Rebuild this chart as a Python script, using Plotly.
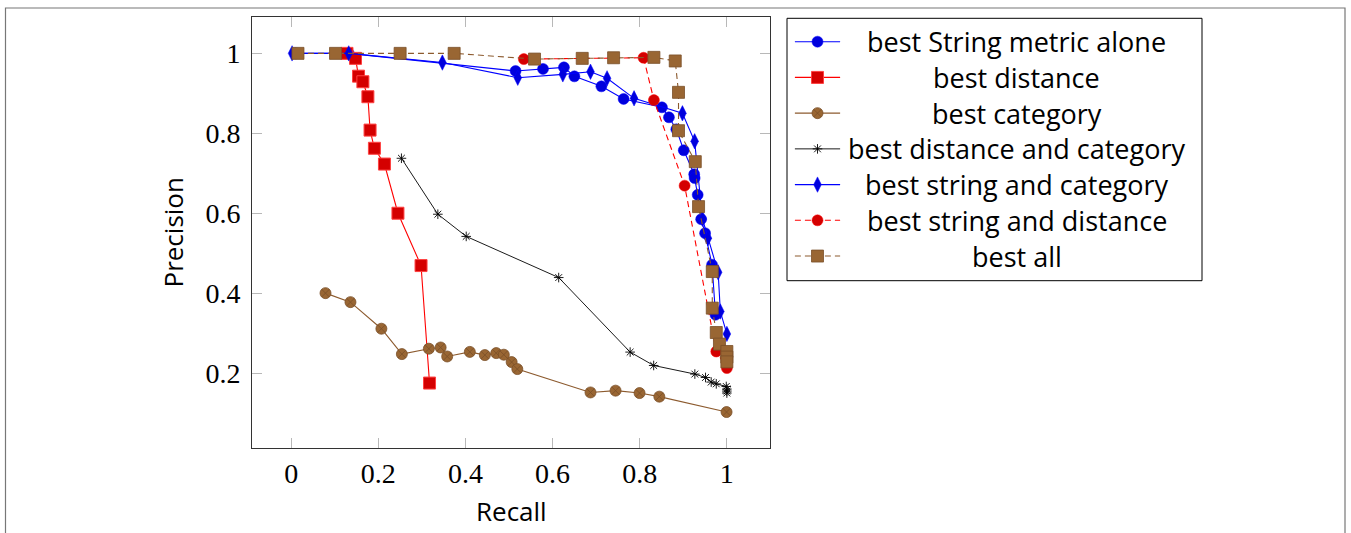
import plotly.graph_objects as go

W, H = 1351, 533

# ---------------- data ----------------
string_x = [0.01, 0.132, 0.515, 0.578, 0.626, 0.650, 0.712, 0.763, 0.851, 0.867, 0.884, 0.901, 0.925, 0.926, 0.933, 0.941, 0.950, 0.966, 0.974]
string_y = [1.0, 1.0, 0.956, 0.961, 0.965, 0.9425, 0.9175, 0.886, 0.865, 0.84, 0.81, 0.7575, 0.6975, 0.688, 0.646, 0.585, 0.55, 0.471, 0.346]

dist_x = [0.128, 0.1476, 0.1545, 0.1645, 0.176, 0.181, 0.191, 0.214, 0.245, 0.298, 0.3175]
dist_y = [1.0, 0.9875, 0.943, 0.929, 0.8915, 0.808, 0.7625, 0.723, 0.600, 0.469, 0.175]

cat_x = [0.0787, 0.136, 0.207, 0.254, 0.316, 0.343, 0.358, 0.410, 0.4445, 0.4706, 0.488, 0.506, 0.519, 0.687, 0.7445, 0.7996, 0.845, 0.9993]
cat_y = [0.400, 0.3775, 0.311, 0.2475, 0.261, 0.264, 0.2415, 0.253, 0.245, 0.250, 0.246, 0.2275, 0.210, 0.1515, 0.156, 0.150, 0.141, 0.1025]

distcat_x = [0.253, 0.3366, 0.4017, 0.614, 0.778, 0.832, 0.9265, 0.951, 0.964, 0.9757, 0.9986, 1.0, 1.0, 1.0]
distcat_y = [0.7375, 0.5975, 0.542, 0.439, 0.2525, 0.219, 0.1975, 0.189, 0.1775, 0.173, 0.1665, 0.160, 0.155, 0.150]

strcat_x = [0.002, 0.132, 0.347, 0.520, 0.6235, 0.687, 0.725, 0.787, 0.898, 0.926, 0.944, 0.9565, 0.980, 0.985, 1.0]
strcat_y = [1.0, 1.0, 0.977, 0.939, 0.9475, 0.954, 0.9375, 0.8875, 0.850, 0.780, 0.586, 0.5375, 0.452, 0.354, 0.298]

strdist_x = [0.534, 0.8088, 0.8325, 0.903, 0.9757, 1.0]
strdist_y = [0.9857, 0.989, 0.883, 0.669, 0.254, 0.2125]

all_x = [0.0155, 0.1017, 0.250, 0.374, 0.5585, 0.668, 0.740, 0.8325, 0.8815, 0.889, 0.889, 0.9275, 0.935, 0.9665, 0.9665, 0.9757, 0.983, 1.0, 1.0, 1.0]
all_y = [1.0, 1.0, 1.0, 1.0, 0.9857, 0.9875, 0.989, 0.990, 0.981, 0.9025, 0.8065, 0.729, 0.6165, 0.454, 0.3625, 0.3015, 0.2725, 0.254, 0.240, 0.228]

x_ticks = [0, 0.2, 0.4, 0.6, 0.8, 1]
x_tick_text = ["0", "0.2", "0.4", "0.6", "0.8", "1"]
y_ticks = [0.2, 0.4, 0.6, 0.8, 1]
y_tick_text = ["0.2", "0.4", "0.6", "0.8", "1"]

names = ["best String metric alone", "best distance", "best category",
         "best distance and category", "best string and category",
         "best string and distance", "best all"]

BLUE = "#0000ff"
BLUE_M = "#0000dd"
RED = "#ff0000"
RED_M = "#d40000"
BROWN = "#8c5a2e"
BROWN_M = "#996633"
BROWN_L = "#7a4f28"

styles = [
    dict(line=dict(color=BLUE, width=1.1), marker=dict(symbol="circle", size=11, color=BLUE_M, line=dict(color=BLUE, width=0.5))),
    dict(line=dict(color=RED, width=1.1), marker=dict(symbol="square", size=12, color=RED_M, line=dict(color="#ff4040", width=1))),
    dict(line=dict(color=BROWN, width=1.1), marker=dict(symbol="circle-x", size=11, color=BROWN_M, line=dict(color=BROWN_L, width=0.8))),
    dict(line=dict(color="black", width=0.9), marker=dict(symbol="asterisk-open", size=8, color="black", line=dict(color="black", width=0.9))),
    dict(line=dict(color=BLUE, width=1.1), marker=dict(symbol="diamond-tall", size=11, color=BLUE_M, line=dict(color=BLUE, width=0.5))),
    dict(line=dict(color=RED, width=1.1, dash="6px,4px"), marker=dict(symbol="circle", size=11, color=RED_M, line=dict(color=RED, width=0.5))),
    dict(line=dict(color=BROWN, width=1.1, dash="6px,4px"), marker=dict(symbol="square", size=12, color=BROWN_M, line=dict(color=BROWN_L, width=0.8))),
]

series = [(string_x, string_y), (dist_x, dist_y), (cat_x, cat_y), (distcat_x, distcat_y),
          (strcat_x, strcat_y), (strdist_x, strdist_y), (all_x, all_y)]

fig = go.Figure()
for (xs, ys), nm, st in zip(series, names, styles):
    fig.add_trace(go.Scatter(x=xs, y=ys, mode="lines+markers", name=nm,
                             line=st["line"], marker=st["marker"], showlegend=False,
                             xaxis="x", yaxis="y"))

# ---------------- custom legend (centered text, like pgfplots) ----------------
n = len(names)
for i, (nm, st) in enumerate(zip(names, styles)):
    fig.add_trace(go.Scatter(x=[0.019, 0.0735, 0.128], y=[i, i, i], mode="lines",
                             line=st["line"], showlegend=False, hoverinfo="skip",
                             xaxis="x2", yaxis="y2"))
    fig.add_trace(go.Scatter(x=[0.0735], y=[i], mode="markers",
                             marker=st["marker"], showlegend=False, hoverinfo="skip",
                             xaxis="x2", yaxis="y2"))
    fig.add_annotation(x=0.553, y=i, xref="x2", yref="y2", text=nm, showarrow=False,
                       xanchor="center", yanchor="middle",
                       font=dict(family="Open Sans", size=27, color="black"))

def px_x(p):
    return p / W

def px_y(p):
    return (H - p) / H

PL, PR, PT, PB = 252, 770, 17, 448
LL, LR, LT, LB = 787, 1202, 18.3, 280.7

axis_common = dict(showgrid=False, zeroline=False, showline=True, linecolor="#333333", linewidth=1,
                   mirror="ticks", ticks="inside", ticklen=10, tickwidth=1, tickcolor="#b8b8b8",
                   tickfont=dict(family="Liberation Serif", size=28, color="black"))

fig.update_layout(
    width=W, height=H,
    margin=dict(l=0, r=0, t=0, b=0),
    paper_bgcolor="white", plot_bgcolor="white",
    showlegend=False,
    xaxis=dict(domain=[px_x(PL), px_x(PR)], range=[-0.09, 1.099], tickvals=x_ticks, ticktext=x_tick_text,
               anchor="y", **axis_common),
    yaxis=dict(domain=[px_y(PB), px_y(PT)], range=[0.0125, 1.091], tickvals=y_ticks, ticktext=y_tick_text,
               anchor="x", ticklabelstandoff=5, **axis_common),
    xaxis2=dict(domain=[px_x(LL), px_x(LR)], range=[0, 1], visible=False, anchor="y2", fixedrange=True),
    yaxis2=dict(domain=[px_y(LB), px_y(LT)], range=[n - 1 + 0.69, -0.655], visible=False, anchor="x2", fixedrange=True),
)

# legend box
fig.add_shape(type="rect", xref="paper", yref="paper", x0=px_x(LL), x1=px_x(LR), y0=px_y(LB), y1=px_y(LT),
              line=dict(color="black", width=1), fillcolor="rgba(0,0,0,0)", layer="below")
# outer frame
fig.add_shape(type="rect", xref="paper", yref="paper", x0=px_x(5.5), x1=px_x(1345), y0=-0.1, y1=px_y(8),
              line=dict(color="#777777", width=1.2), fillcolor="rgba(0,0,0,0)", layer="below")

# axis titles
fig.add_annotation(x=(PL + PR) / 2 / W, y=px_y(511), xref="paper", yref="paper", text="Recall",
                   showarrow=False, xanchor="center", yanchor="middle",
                   font=dict(family="Open Sans", size=26, color="black"))
fig.add_annotation(x=px_x(172), y=px_y((PT + PB) / 2), xref="paper", yref="paper", text="Precision",
                   showarrow=False, xanchor="center", yanchor="middle", textangle=-90,
                   font=dict(family="Open Sans", size=26, color="black"))

fig.write_html("out.html")
